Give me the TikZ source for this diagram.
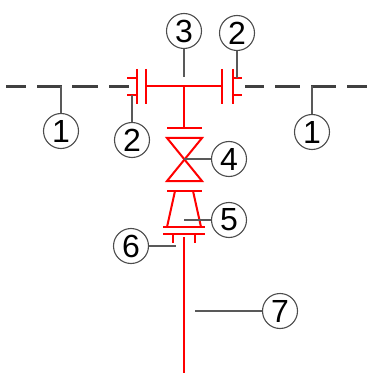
\documentclass[tikz,border=0pt]{standalone}
\usepackage{fontspec}
\setmainfont{Liberation Sans}
\tikzset{
  x=1pt,y=-1pt,
  callout/.style={draw=black!70,line width=1.1pt,circle,fill=white,minimum size=35pt,inner sep=0pt,font=\fontsize{32}{32}\selectfont,text=black},
  leader/.style={draw=black!65,line width=1.1pt},
  pipe/.style={draw=black!75,line width=2.2pt},
  red1/.style={draw=red,line width=2pt},
  red2/.style={draw=red,line width=2.4pt}
}
\begin{document}
\begin{tikzpicture}
\useasboundingbox (0,0) rectangle (370,374);
% dashed pipe
\foreach \a/\b in {6/26,37/62,72/98,109/129,245/264,275/300,311/336,347/367}
  \draw[pipe] (\a,86.5) -- (\b,86.5);
% flanges
\foreach \xa/\xb/\xc in {137/127/137,233/233/242}{
  \draw[red1] (\xa,69) -- (\xa,104);
  \draw[red1] (\xb,78) -- (\xc,78);
  \draw[red1] (\xb,95) -- (\xc,95);
}
\draw[red1] (146,69) -- (146,104);
\draw[red1] (222,69) -- (222,104);
\draw[red1] (146,86.5) -- (222,86.5);
\draw[red2] (184,86.5) -- (184,128);
\draw[red1] (167,128) -- (202,128);
% valve
\draw[red1,line join=miter] (167,138) -- (202,138) -- (167,181) -- (202,181) -- cycle;
% reducer
\draw[red1] (167,191) -- (202,191);
\draw[red1] (175,191) -- (167,227);
\draw[red1] (193,191) -- (201,227);
\draw[red1] (163,227) -- (205,227);
\draw[red1] (163,234) -- (205,234);
\draw[red1] (173,234) -- (173,243);
\draw[red1] (195,234) -- (195,243);
\draw[red2] (184,237) -- (184,373);
% callouts
\coordinate (t1) at (61,86.5);
\coordinate (t1r) at (312,86.5);
\coordinate (t2) at (132,95);
\coordinate (t2r) at (237,78);
\coordinate (t3) at (184,77);
\coordinate (t4) at (184,159);
\coordinate (t5) at (184,220);
\coordinate (t6) at (176,246);
\coordinate (t7) at (195,311);
\node[callout] (n1) at (61,131) {1};
\node[callout] (n1r) at (312,132) {1};
\node[callout] (n2) at (132,140) {2};
\node[callout] (n2r) at (237,33) {2};
\node[callout] (n3) at (184,31) {3};
\node[callout] (n4) at (229,159) {4};
\node[callout] (n5) at (229,220) {5};
\node[callout] (n6) at (131,246) {6};
\node[callout] (n7) at (280,311) {7};
\draw[leader] (n1) -- (t1);
\draw[leader] (n1r) -- (t1r);
\draw[leader] (n2) -- (t2);
\draw[leader] (n2r) -- (t2r);
\draw[leader] (n3) -- (t3);
\draw[leader] (n4) -- (t4);
\draw[leader] (n5) -- (t5);
\draw[leader] (n6) -- (t6);
\draw[leader] (n7) -- (t7);
\end{tikzpicture}
\end{document}
